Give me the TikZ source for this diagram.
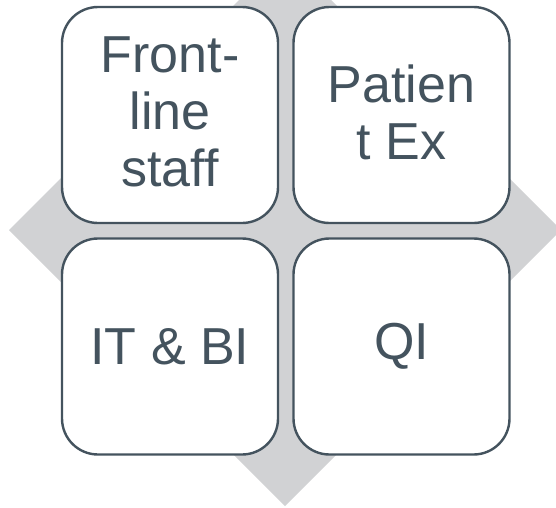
\documentclass[tikz,border=0pt]{standalone}
\usepackage{fontspec}
\setmainfont{Liberation Sans}
\definecolor{slate}{HTML}{44535E}
\definecolor{diamondgray}{HTML}{D1D2D4}
\tikzset{
  px/.style={x=1pt,y=-1pt},
  tile/.style={draw=slate, line width=2.4pt, fill=white, rounded corners=36pt,
    minimum width=216pt, minimum height=216pt, inner sep=0pt,
    text=slate, align=center, font=\fontsize{52}{57}\selectfont},
}
\begin{document}
\begin{tikzpicture}[px]
  \useasboundingbox (0,0) rectangle (556,507);
  \clip (0,0) rectangle (556,507);
  % backdrop diamond
  \fill[diamondgray] (285,-46) -- (561,230) -- (285,506) -- (9,230) -- cycle;
  % four tiles
  \node[tile] (fl) at (170,115) {};
  \node[tile] (px) at (401.5,115) {};
  \node[tile] (it) at (170,346.5) {IT \& BI};
  \node[tile] (qi) at (401.5,346.5) {QI};
  % multi-line labels, nudged up slightly inside their tiles
  \node[text=slate, align=center, inner sep=0pt, font=\fontsize{52}{57}\selectfont]
    (fltext) at ([yshift=3pt]fl.center) {Front-\\line\\staff};
  \node[text=slate, align=center, inner sep=0pt, font=\fontsize{52}{57}\selectfont]
    (pxtext) at ([yshift=3pt]px.center) {Patien\\t Ex};
\end{tikzpicture}
\end{document}
